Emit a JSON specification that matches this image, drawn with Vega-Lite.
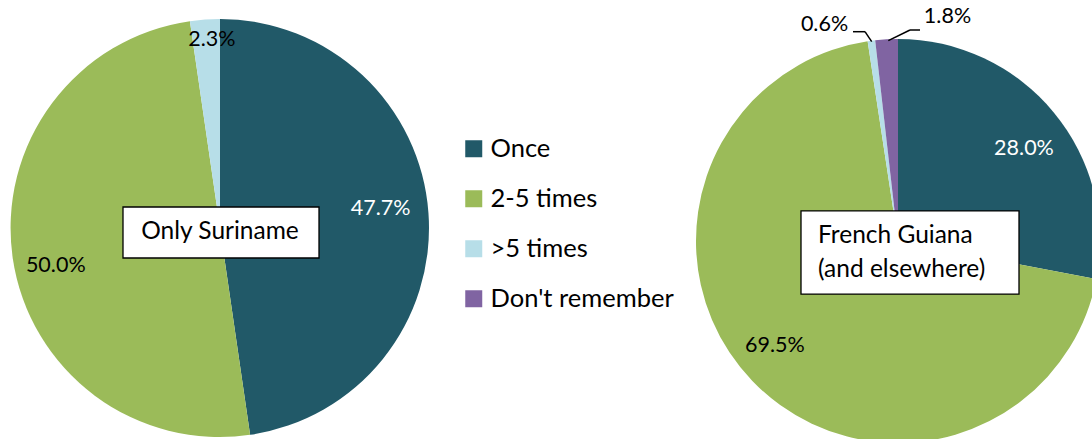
{
  "$schema": "https://vega.github.io/schema/vega-lite/v6.json",
  "width": 1092,
  "height": 439,
  "autosize": {"type": "none"},
  "padding": 0,
  "background": "white",
  "config": {"view": {"stroke": null}, "font": "Lato"},
  "datasets": {
    "slices": [
      {"panel": "Only Suriname", "cat": "Once", "k": 1, "pct": 47.7, "lab": "47.7%"},
      {"panel": "Only Suriname", "cat": "2-5 times", "k": 2, "pct": 50.0, "lab": "50.0%"},
      {"panel": "Only Suriname", "cat": ">5 times", "k": 3, "pct": 2.3, "lab": "2.3%"},
      {"panel": "French Guiana", "cat": "Once", "k": 1, "pct": 28.0, "lab": "28.0%"},
      {"panel": "French Guiana", "cat": "2-5 times", "k": 2, "pct": 69.5, "lab": "69.5%"},
      {"panel": "French Guiana", "cat": ">5 times", "k": 3, "pct": 0.6, "lab": "0.6%"},
      {"panel": "French Guiana", "cat": "Don't remember", "k": 4, "pct": 1.8, "lab": "1.8%"}
    ],
    "panels": [
      {"panel": "Only Suriname", "title": "Only Suriname"},
      {"panel": "French Guiana", "title": "French Guiana\n(and elsewhere)"}
    ]
  },
  "data": {"name": "slices"},
  "encoding": {
    "x": {"field": "panel", "type": "nominal", "axis": null,
          "scale": {"type": "point", "domain": ["Only Suriname", "French Guiana"], "range": [220, 898], "padding": 0}},
    "y": {"field": "panel", "type": "nominal", "axis": null,
          "scale": {"type": "point", "domain": ["Only Suriname", "French Guiana"], "range": [228, 241], "padding": 0}}
  },
  "layer": [
    {
      "transform": [{"filter": "datum.panel === 'Only Suriname'"}],
      "mark": {"type": "arc", "outerRadius": 209},
      "encoding": {
        "theta": {"field": "pct", "type": "quantitative", "stack": "normalize"},
        "order": {"field": "k", "type": "quantitative"},
        "color": {"field": "cat", "type": "nominal",
                  "scale": {"domain": ["Once", "2-5 times", ">5 times", "Don't remember"],
                            "range": ["#215968", "#9BBB59", "#B7DEE8", "#8064A2"]},
                  "legend": {"orient": "none", "legendX": 461, "legendY": 136, "title": null,
                             "symbolType": "square", "symbolSize": 289, "symbolStrokeWidth": 0, "symbolOpacity": 1,
                             "labelFontSize": 25.5, "labelFont": "Lato", "labelColor": "black", "labelLimit": 400,
                             "rowPadding": 23, "labelOffset": 4, "padding": 0}}
      }
    },
    {
      "transform": [{"filter": "datum.panel === 'French Guiana'"}],
      "mark": {"type": "arc", "outerRadius": 202, "clip": true},
      "encoding": {
        "theta": {"field": "pct", "type": "quantitative", "stack": "normalize"},
        "order": {"field": "k", "type": "quantitative"},
        "color": {"field": "cat", "type": "nominal"}
      }
    },
    {
      "data": {"name": "panels"},
      "transform": [{"filter": "datum.panel === 'Only Suriname'"}],
      "mark": {"type": "point", "shape": "M-1,-0.26L1,-0.26L1,0.26L-1,0.26Z", "size": 38416,
               "filled": true, "fill": "white", "stroke": "black", "strokeWidth": 1.3, "opacity": 1,
               "xOffset": 1, "yOffset": 4.5}
    },
    {
      "data": {"name": "panels"},
      "transform": [{"filter": "datum.panel === 'French Guiana'"}],
      "mark": {"type": "point", "shape": "M-1,-0.381L1,-0.381L1,0.381L-1,0.381Z", "size": 47524,
               "filled": true, "fill": "white", "stroke": "black", "strokeWidth": 1.3, "opacity": 1,
               "xOffset": 12, "yOffset": 11.5}
    },
    {
      "data": {"name": "panels"},
      "transform": [{"filter": "datum.panel === 'French Guiana'"}],
      "mark": {"type": "rule", "color": "black", "strokeWidth": 1.5,
               "xOffset": -45, "x2Offset": -33, "yOffset": -209.3, "y2Offset": -209.3},
      "encoding": {"x2": {"field": "panel"}, "y2": {"field": "panel"}}
    },
    {
      "data": {"name": "panels"},
      "transform": [{"filter": "datum.panel === 'French Guiana'"}],
      "mark": {"type": "rule", "color": "black", "strokeWidth": 1.5,
               "xOffset": -33, "x2Offset": -26.3, "yOffset": -209.3, "y2Offset": -199.3},
      "encoding": {"x2": {"field": "panel"}, "y2": {"field": "panel"}}
    },
    {
      "data": {"name": "panels"},
      "transform": [{"filter": "datum.panel === 'French Guiana'"}],
      "mark": {"type": "rule", "color": "black", "strokeWidth": 1.5,
               "xOffset": -9.7, "x2Offset": 12, "yOffset": -200.3, "y2Offset": -211},
      "encoding": {"x2": {"field": "panel"}, "y2": {"field": "panel"}}
    },
    {
      "data": {"name": "panels"},
      "transform": [{"filter": "datum.panel === 'French Guiana'"}],
      "mark": {"type": "rule", "color": "black", "strokeWidth": 1.5,
               "xOffset": 12, "x2Offset": 22, "yOffset": -211, "y2Offset": -211},
      "encoding": {"x2": {"field": "panel"}, "y2": {"field": "panel"}}
    },
    {
      "data": {"name": "panels"},
      "transform": [{"filter": "datum.panel === 'Only Suriname'"}],
      "mark": {"type": "text", "fontSize": 24.5, "align": "center", "baseline": "middle", "dy": 4, "color": "black"},
      "encoding": {"text": {"field": "title"}}
    },
    {
      "data": {"name": "panels"},
      "transform": [{"filter": "datum.panel === 'French Guiana'"}],
      "mark": {"type": "text", "fontSize": 24.5, "align": "left", "baseline": "alphabetic", "dx": -80, "dy": 2,
               "lineBreak": "\n", "lineHeight": 34, "color": "black"},
      "encoding": {"text": {"field": "title"}}
    },
    {
      "transform": [{"filter": "datum.panel === 'Only Suriname'"}],
      "mark": {"type": "text", "radius": 161, "dy": -7.5, "fontSize": 21.5, "color": "white"},
      "encoding": {
        "theta": {"field": "pct", "type": "quantitative", "stack": "normalize"},
        "order": {"field": "k", "type": "quantitative"},
        "text": {"condition": {"test": "datum.cat === 'Once'", "field": "lab"}, "value": ""}
      }
    },
    {
      "transform": [{"filter": "datum.panel === 'Only Suriname'"}],
      "mark": {"type": "text", "radius": 168, "dx": 2, "dy": 14, "fontSize": 21.5, "color": "black"},
      "encoding": {
        "theta": {"field": "pct", "type": "quantitative", "stack": "normalize"},
        "order": {"field": "k", "type": "quantitative"},
        "text": {"condition": {"test": "datum.cat === '2-5 times'", "field": "lab"}, "value": ""}
      }
    },
    {
      "transform": [{"filter": "datum.panel === 'Only Suriname'"}],
      "mark": {"type": "text", "radius": 188.5, "dx": 5.5, "fontSize": 21.5, "color": "black"},
      "encoding": {
        "theta": {"field": "pct", "type": "quantitative", "stack": "normalize"},
        "order": {"field": "k", "type": "quantitative"},
        "text": {"condition": {"test": "datum.cat === '>5 times'", "field": "lab"}, "value": ""}
      }
    },
    {
      "transform": [{"filter": "datum.panel === 'French Guiana'"}],
      "mark": {"type": "text", "radius": 155.6, "dx": 6, "dy": 7, "fontSize": 21.5, "color": "white"},
      "encoding": {
        "theta": {"field": "pct", "type": "quantitative", "stack": "normalize"},
        "order": {"field": "k", "type": "quantitative"},
        "text": {"condition": {"test": "datum.cat === 'Once'", "field": "lab"}, "value": ""}
      }
    },
    {
      "transform": [{"filter": "datum.panel === 'French Guiana'"}],
      "mark": {"type": "text", "radius": 161, "dx": -7, "dy": -7, "fontSize": 21.5, "color": "black"},
      "encoding": {
        "theta": {"field": "pct", "type": "quantitative", "stack": "normalize"},
        "order": {"field": "k", "type": "quantitative"},
        "text": {"condition": {"test": "datum.cat === '2-5 times'", "field": "lab"}, "value": ""}
      }
    },
    {
      "transform": [{"filter": "datum.panel === 'French Guiana'"}],
      "mark": {"type": "text", "radius": 224, "dx": -44, "dy": 6, "fontSize": 21.5, "color": "black"},
      "encoding": {
        "theta": {"field": "pct", "type": "quantitative", "stack": "normalize"},
        "order": {"field": "k", "type": "quantitative"},
        "text": {"condition": {"test": "datum.cat === '>5 times'", "field": "lab"}, "value": ""}
      }
    },
    {
      "transform": [{"filter": "datum.panel === 'French Guiana'"}],
      "mark": {"type": "text", "radius": 221, "dx": 62, "dy": -3.6, "fontSize": 21.5, "color": "black"},
      "encoding": {
        "theta": {"field": "pct", "type": "quantitative", "stack": "normalize"},
        "order": {"field": "k", "type": "quantitative"},
        "text": {"condition": {"test": "datum.cat === \"Don't remember\"", "field": "lab"}, "value": ""}
      }
    }
  ]
}
